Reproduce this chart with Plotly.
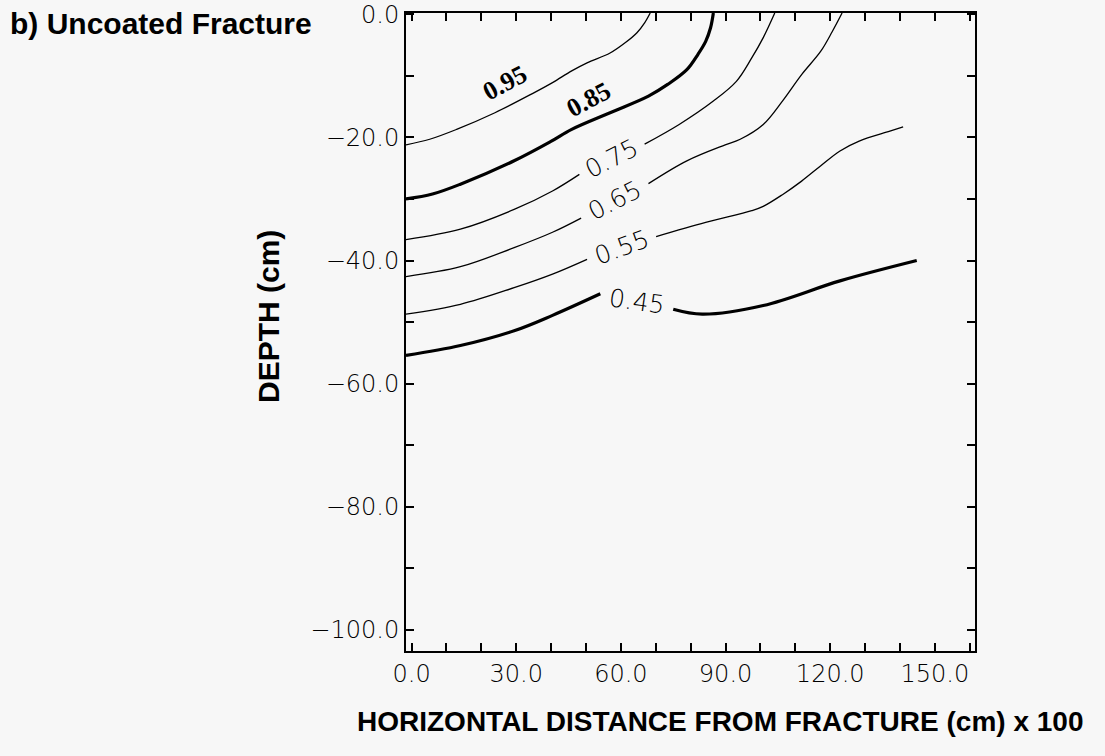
import plotly.graph_objects as go

# ---- data ----
x_ticks = [0, 30, 60, 90, 120, 150]
x_tick_text = ["0.0", "30.0", "60.0", "90.0", "120.0", "150.0"]
y_ticks = [0, -20, -40, -60, -80, -100]
y_tick_text = ["0.0", "\u221220.0", "\u221240.0", "\u221260.0", "\u221280.0", "\u2212100.0"]

levels = ["0.95", "0.85", "0.75", "0.65", "0.55", "0.45"]

c95_x = [-1.6, 5.2, 12.9, 23.9, 34.9, 40.4, 45.9, 50.3, 56.9, 61.3, 64.6, 66.8, 68.4]
c95_y = [-21.2, -20.3, -18.7, -16.0, -12.8, -11.1, -9.2, -7.9, -6.3, -4.6, -3.0, -1.4, 0.2]

c85_x = [-1.6, 6.0, 14.0, 29.4, 39.8, 45.9, 56.9, 67.9, 73.4, 78.9, 82.1, 84.3, 85.7, 86.5]
c85_y = [-30.0, -29.2, -27.6, -23.8, -20.7, -18.7, -16.0, -13.3, -11.4, -9.0, -6.5, -4.4, -2.2, 0.2]

c75_x = [-1.6, 14.0, 29.4, 40.4, 48.1, None, 66.8, 76.7, 86.5, 93.1, 97.5, 100.8, 104.1]
c75_y = [-36.6, -34.9, -31.7, -28.7, -26.0, None, -21.1, -17.9, -14.1, -10.9, -7.1, -3.8, 0.2]

c65_x = [-1.6, 14.0, 29.4, 40.4, 48.6, None, 67.9, 78.9, 89.9, 94.2, 100.8, 106.3, 111.8, 117.3, 120.6, 123.4]
c65_y = [-42.6, -41.0, -37.9, -35.4, -33.1, None, -27.5, -23.8, -21.2, -20.3, -17.9, -14.1, -9.8, -6.0, -2.8, 0.2]

c55_x = [-1.6, 14.0, 29.4, 40.4, 50.3, None, 70.1, 84.3, 97.5, 100.8, 106.3, 111.8, 117.3, 122.8, 128.3, 137.1, 140.9]
c55_y = [-48.7, -47.1, -44.4, -42.2, -39.8, None, -36.1, -33.8, -31.9, -31.2, -29.3, -27.1, -24.6, -22.2, -20.6, -19.0, -18.3]

c45_x = [-1.6, 14.0, 29.4, 40.4, 54.1, None, 75.0, 83.3, 100.8, 122.8, 144.8]
c45_y = [-55.4, -53.8, -51.4, -48.9, -45.4, None, -47.9, -48.7, -47.3, -43.3, -40.0]

label_x = [26.9, 50.8, 57.4, 58.2, 60.2, 64.5]
label_y = [-11.1, -13.9, -23.5, -30.3, -37.9, -46.6]
label_angle = [-28, -28, -27, -27, -20, 8]

# ---- figure ----
lines_x = [c95_x, c85_x, c75_x, c65_x, c55_x, c45_x]
lines_y = [c95_y, c85_y, c75_y, c65_y, c55_y, c45_y]
thick = {"0.85", "0.45"}
bold_labels = {"0.95", "0.85"}

fig = go.Figure()
for lev, xs, ys in zip(levels, lines_x, lines_y):
    fig.add_trace(go.Scatter(
        x=xs, y=ys, mode="lines", connectgaps=False, cliponaxis=True,
        line=dict(color="black", width=3.2 if lev in thick else 1.3,
                  shape="spline", smoothing=1.0),
        hoverinfo="skip", showlegend=False))

tick_font = dict(family="DejaVu Sans", size=24, color="#000000", weight=200)

for lev, lx, ly, ang in zip(levels, label_x, label_y, label_angle):
    if lev in bold_labels:
        f = dict(family="Liberation Serif", size=26, color="black", weight="bold")
    else:
        f = dict(family="DejaVu Sans", size=25, color="#000000", weight=200)
    fig.add_annotation(x=lx, y=ly, xref="x", yref="y", text=lev, showarrow=False,
                       textangle=ang, font=f, xanchor="center", yanchor="middle")

fig.add_annotation(x=-0.6995, y=0.984, xref="paper", yref="paper",
                   text="b) Uncoated Fracture", showarrow=False,
                   xanchor="left", yanchor="middle",
                   font=dict(family="Liberation Sans", size=30, color="black", weight="bold"))
fig.add_annotation(x=0.552, y=-0.111, xref="paper", yref="paper",
                   text="HORIZONTAL DISTANCE FROM FRACTURE (cm) x 100", showarrow=False,
                   xanchor="center", yanchor="middle",
                   font=dict(family="Liberation Sans", size=28, color="black", weight="bold"))
fig.add_annotation(x=-0.2425, y=0.5235, xref="paper", yref="paper",
                   text="DEPTH (cm)", showarrow=False, textangle=-90,
                   xanchor="center", yanchor="middle",
                   font=dict(family="Liberation Sans", size=30, color="black", weight="bold"))

axis_common = dict(showgrid=False, zeroline=False, showline=True, linecolor="black",
                   linewidth=2, mirror="ticks", ticks="inside", ticklen=8, tickwidth=1.5,
                   tickcolor="black", tickfont=tick_font, automargin=False)

fig.update_xaxes(range=[-1.6, 161.5], tickmode="array", tickvals=x_ticks, ticktext=x_tick_text,
                 minor=dict(dtick=10, tick0=0, ticks="inside", ticklen=8, tickwidth=1.5,
                            tickcolor="black"),
                 **axis_common)
fig.update_yaxes(range=[-103.4, 0.2], tickmode="array", tickvals=y_ticks, ticktext=y_tick_text,
                 minor=dict(dtick=10, tick0=0, ticks="inside", ticklen=8, tickwidth=1.5,
                            tickcolor="black"),
                 **axis_common)

fig.update_layout(width=1105, height=756, margin=dict(l=406, r=130, t=13, b=105),
                  paper_bgcolor="#f7f7f7", plot_bgcolor="#f7f7f7")

fig.write_html("out.html")
